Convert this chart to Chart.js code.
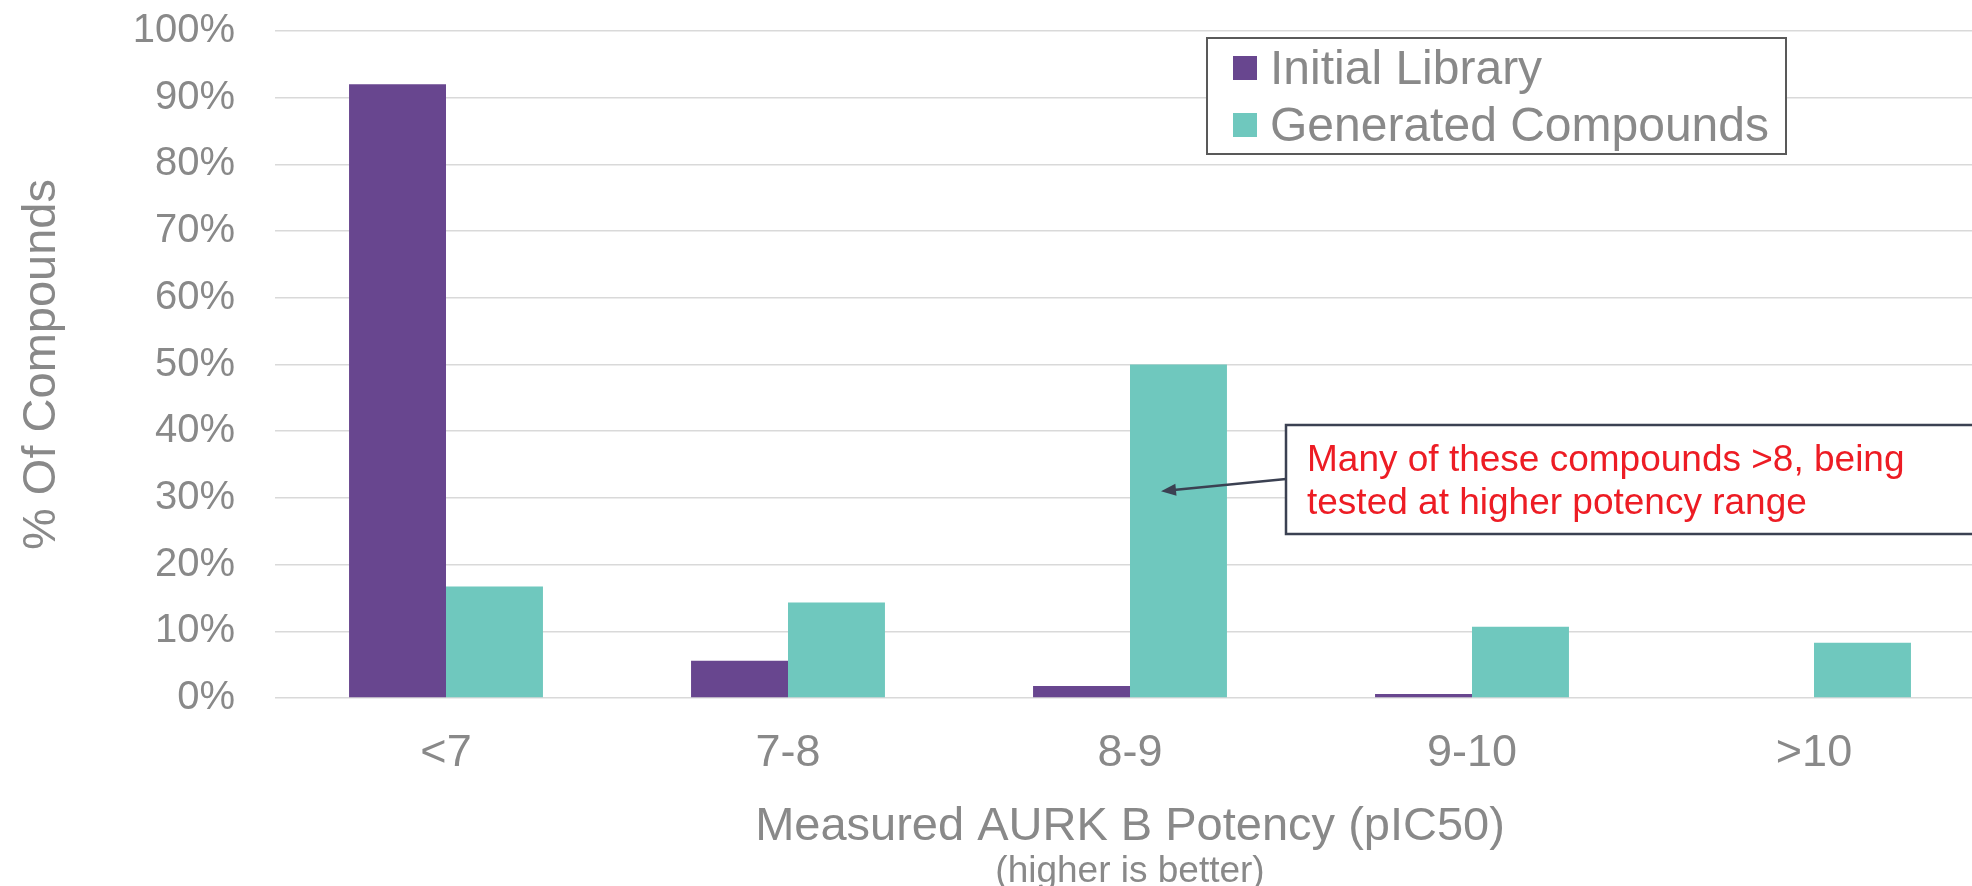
<!DOCTYPE html>
<html>
<head>
<meta charset="utf-8">
<script src="https://cdn.jsdelivr.net/npm/chart.js@4.4.1/dist/chart.umd.min.js"></script>
<style>
    html, body { margin: 0; padding: 0; background: #fff; overflow: hidden; }
    #wrap { width: 1985px; height: 886px; position: relative; }
</style>
</head>
<body>
<div id="wrap"><canvas id="chart"></canvas></div>
<script>
// Datos (% de compuestos por rango de pIC50)
const categories = ['<7', '7-8', '8-9', '9-10', '>10'];
const seriesNames = ['Initial Library', 'Generated Compounds'];
const initialLibrary = [92, 5.6, 1.8, 0.6, 0];
const generatedCompounds = [16.7, 14.3, 50, 10.7, 8.3];
const seriesColors = ['#68468F', '#6FC8BE'];
const yTitle = '% Of Compounds';
const xTitle = 'Measured AURK B Potency (pIC50)';
const xSubtitle = '(higher is better)';
const noteLines = ['Many of these compounds >8, being', 'tested at higher potency range'];

const FONT = "'Liberation Sans', Arial, sans-serif";
const GREY = '#898989';

Chart.defaults.font.family = FONT;
Chart.defaults.color = GREY;

// Leyenda con recuadro, dibujada a mano
const boxLegend = {
    id: 'boxLegend',
    afterDraw: (chart) => {
        const ctx = chart.ctx;
        ctx.save();
        ctx.fillStyle = '#fff';
        ctx.fillRect(1207, 38, 579, 116);
        ctx.strokeStyle = '#595959';
        ctx.lineWidth = 2;
        ctx.strokeRect(1207, 38, 579, 116);
        ctx.font = '48px ' + FONT;
        ctx.textBaseline = 'alphabetic';
        chart.data.datasets.forEach((ds, i) => {
            const base = 84 + i * 57;
            ctx.fillStyle = ds.backgroundColor;
            ctx.fillRect(1233, base - 28, 24, 24);
            ctx.fillStyle = GREY;
            ctx.fillText(ds.label, 1270, base);
        });
        ctx.restore();
    }
};

// Nota con flecha sobre la barra 8-9 + subtítulo del eje X
const notes = {
    id: 'notes',
    afterDraw: (chart) => {
        const ctx = chart.ctx;
        const xs = chart.scales.x;
        const ys = chart.scales.y;
        ctx.save();

        // recuadro
        ctx.fillStyle = '#fff';
        ctx.fillRect(1286, 425, 720, 109);
        ctx.strokeStyle = '#3B4152';
        ctx.lineWidth = 2.5;
        ctx.strokeRect(1286, 425, 720, 109);

        ctx.fillStyle = '#ED1C24';
        ctx.font = '37px ' + FONT;
        ctx.textBaseline = 'alphabetic';
        noteLines.forEach((t, i) => ctx.fillText(t, 1307, 471 + i * 43));

        // flecha
        const tipX = xs.getPixelForValue(2) + 31;
        const tipY = ys.getPixelForValue(31);
        const fromX = 1286, fromY = 479;
        const ang = Math.atan2(tipY - fromY, tipX - fromX);
        ctx.strokeStyle = '#3B4152';
        ctx.fillStyle = '#3B4152';
        ctx.lineWidth = 2.5;
        ctx.beginPath();
        ctx.moveTo(fromX, fromY);
        ctx.lineTo(tipX - 10 * Math.cos(ang), tipY - 10 * Math.sin(ang));
        ctx.stroke();
        ctx.beginPath();
        ctx.moveTo(tipX, tipY);
        ctx.lineTo(tipX - 15 * Math.cos(ang) + 6 * Math.sin(ang), tipY - 15 * Math.sin(ang) - 6 * Math.cos(ang));
        ctx.lineTo(tipX - 15 * Math.cos(ang) - 6 * Math.sin(ang), tipY - 15 * Math.sin(ang) + 6 * Math.cos(ang));
        ctx.closePath();
        ctx.fill();

        // subtítulo del eje X
        const a = chart.chartArea;
        ctx.fillStyle = GREY;
        ctx.font = '37px ' + FONT;
        ctx.textAlign = 'center';
        ctx.fillText(xSubtitle, (a.left + a.right) / 2, 882);
        ctx.restore();
    }
};

const config = {
    type: 'bar',
    data: {
        labels: categories,
        datasets: [
            {
                label: seriesNames[0],
                data: initialLibrary,
                backgroundColor: seriesColors[0],
                borderWidth: 0
            },
            {
                label: seriesNames[1],
                data: generatedCompounds,
                backgroundColor: seriesColors[1],
                borderWidth: 0
            }
        ]
    },
    options: {
        responsive: true,
        maintainAspectRatio: false,
        animation: false,
        layout: { padding: { top: 31, right: 0, bottom: 0, left: 0 } },
        datasets: {
            bar: { categoryPercentage: 0.567, barPercentage: 1 }
        },
        plugins: {
            legend: { display: false },
            tooltip: { enabled: false }
        },
        scales: {
            x: {
                grid: { display: false },
                border: { display: false },
                ticks: {
                    color: GREY,
                    font: { size: 45 },
                    padding: 21,
                    maxRotation: 0
                },
                title: {
                    display: true,
                    text: xTitle,
                    color: GREY,
                    font: { size: 47 },
                    padding: { top: 0, bottom: 31 }
                },
                afterFit: (scale) => { scale.height = 188; }
            },
            y: {
                min: 0,
                max: 100,
                grid: { color: '#D9D9D9', lineWidth: 1.5, drawTicks: false },
                border: { display: false },
                ticks: {
                    stepSize: 10,
                    color: GREY,
                    font: { size: 40 },
                    padding: 40,
                    callback: (value) => value + '%'
                },
                title: {
                    display: true,
                    text: yTitle,
                    color: GREY,
                    font: { size: 47 },
                    padding: { top: 14, bottom: 0 }
                },
                afterFit: (scale) => {
                    scale.width = 275;
                    // el padding de las etiquetas no debe empujar el área del gráfico
                    scale.paddingTop = 0;
                    scale.paddingBottom = 0;
                }
            }
        }
    },
    plugins: [boxLegend, notes]
};

new Chart(document.getElementById('chart'), config);
</script>
</body>
</html>
